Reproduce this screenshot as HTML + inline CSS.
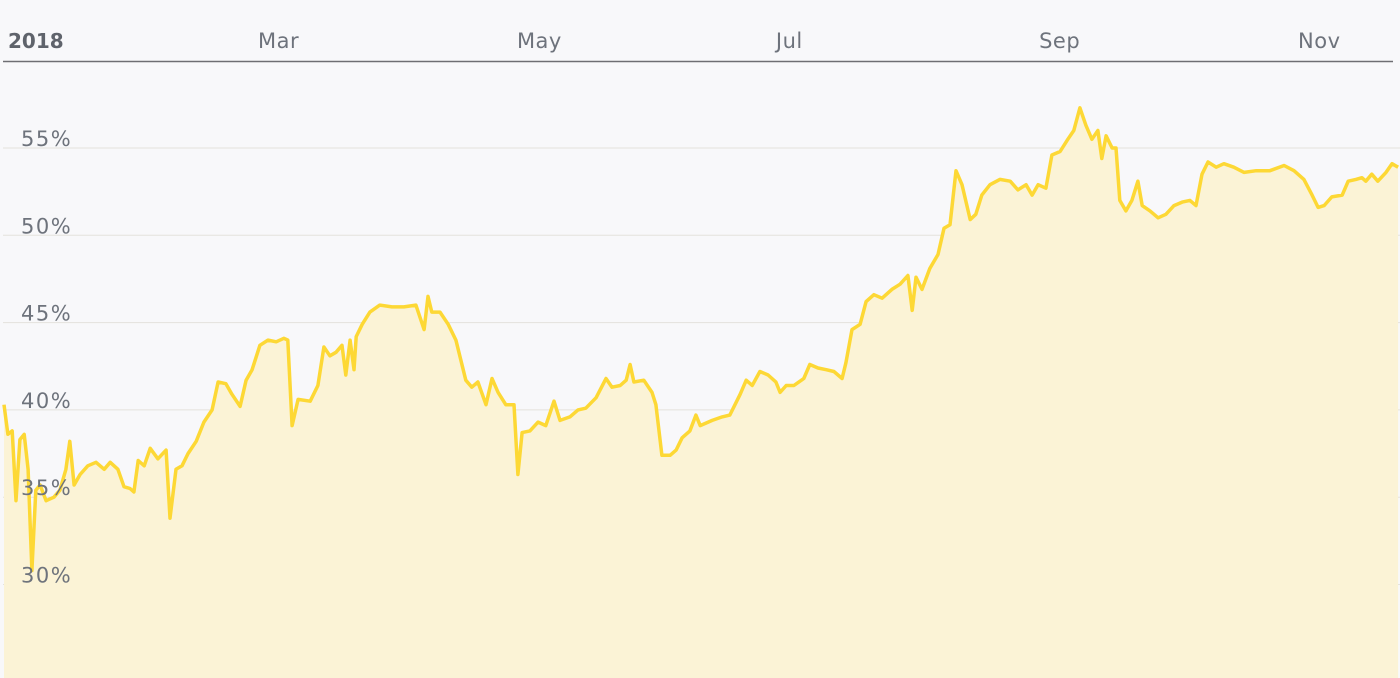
<!DOCTYPE html>
<html><head><meta charset="utf-8"><style>
html,body{margin:0;padding:0;background:#f8f8fa;}
svg{display:block;}
text{font-family:"DejaVu Sans","Liberation Sans",sans-serif;}
</style></head><body>
<svg id="chart" width="1400" height="678" viewBox="0 0 1400 678">
<rect x="0" y="0" width="1400" height="678" fill="#f8f8fa"/>
<g id="grid"></g>
<path id="area" fill="#fbf3d6"/>
<path id="line" fill="none" stroke="#fdd835" stroke-width="3.5" stroke-linejoin="round"/>
<g id="ylabels"></g>
<line x1="3" y1="61.5" x2="1393" y2="61.5" stroke="#6e6e73" stroke-width="1.5"/>
<text x="8" y="48" font-size="20" font-weight="bold" fill="#5f636b">2018</text>
<g id="xlabels"></g>
</svg>
<script>
const monthLabels=["Mar","May","Jul","Sep","Nov"];
const monthStartDays=[59,120,181,243,304];
const yTicks=[30,35,40,45,50,55];
const days=[0,0.9,1.9,2.8,3.7,4.7,5.6,6.5,7.4,8.4,9.8,11.6,13.0,14.4,15.3,16.3,17.7,19.5,21.4,23.3,24.7,26.5,27.9,29.3,30.2,31.2,32.6,34.0,35.8,37.7,38.6,40.0,41.4,42.8,44.7,46.5,48.4,49.8,51.6,53.0,54.9,56.3,57.7,59.5,61.4,63.3,65.1,66.0,67.0,68.4,71.2,73.0,74.4,75.8,77.2,78.6,79.5,80.5,81.4,81.9,83.3,85.1,87.4,90.2,93.0,95.8,97.7,98.6,99.5,101.4,103.3,105.1,107.4,108.8,110.2,112.1,113.5,114.9,116.7,118.6,119.5,120.5,122.3,124.2,126.0,127.9,129.3,131.6,133.5,135.3,137.7,140.0,141.4,143.3,144.7,145.6,146.5,148.8,150.7,151.6,153.0,154.9,156.3,157.7,159.5,160.9,161.9,164.7,167.0,168.8,171.2,172.6,174.0,175.8,177.7,179.5,180.5,181.9,183.7,186.0,187.4,189.3,191.2,193.0,194.9,195.8,197.2,199.1,200.5,202.3,204.2,206.5,208.4,210.2,211.2,212.1,213.5,215.3,217.2,218.6,220.0,221.4,222.8,224.7,226.0,227.4,229.3,231.6,234.0,235.8,237.7,239.1,240.5,242.3,243.7,245.6,247.4,248.8,250.2,251.6,253.0,254.4,255.3,256.3,257.7,258.6,259.5,260.9,262.3,263.7,264.7,266.5,268.4,270.2,272.1,274.0,275.8,277.2,278.6,280.0,281.9,283.7,286.0,288.4,291.2,294.4,297.7,300.0,302.3,304.2,305.6,307.0,308.8,311.2,312.6,314.4,315.8,316.7,318.1,319.5,321.4,322.8,324.2];
const values=[40.3,38.6,38.8,34.8,38.3,38.6,36.6,30.8,35.4,35.7,34.8,35.0,35.4,36.6,38.2,35.7,36.3,36.8,37.0,36.6,37.0,36.6,35.6,35.5,35.3,37.1,36.8,37.8,37.2,37.7,33.8,36.6,36.8,37.5,38.2,39.3,40.0,41.6,41.5,40.9,40.2,41.7,42.3,43.7,44.0,43.9,44.1,44.0,39.1,40.6,40.5,41.4,43.6,43.1,43.3,43.7,42.0,44.0,42.3,44.2,44.9,45.6,46.0,45.9,45.9,46.0,44.6,46.5,45.6,45.6,44.9,44.0,41.7,41.3,41.6,40.3,41.8,41.0,40.3,40.3,36.3,38.7,38.8,39.3,39.1,40.5,39.4,39.6,40.0,40.1,40.7,41.8,41.3,41.4,41.7,42.6,41.6,41.7,41.0,40.3,37.4,37.4,37.7,38.4,38.8,39.7,39.1,39.4,39.6,39.7,40.9,41.7,41.4,42.2,42.0,41.6,41.0,41.4,41.4,41.8,42.6,42.4,42.3,42.2,41.8,42.7,44.6,44.9,46.2,46.6,46.4,46.9,47.2,47.7,45.7,47.6,46.9,48.1,48.9,50.4,50.6,53.7,52.9,50.9,51.2,52.3,52.9,53.2,53.1,52.6,52.9,52.3,52.9,52.7,54.6,54.8,55.5,56.0,57.3,56.3,55.5,56.0,54.4,55.7,55.0,55.0,52.0,51.4,52.0,53.1,51.7,51.4,51.0,51.2,51.7,51.9,52.0,51.7,53.5,54.2,53.9,54.1,53.9,53.6,53.7,53.7,54.0,53.7,53.2,52.3,51.6,51.7,52.2,52.3,53.1,53.2,53.3,53.1,53.5,53.1,53.6,54.1,53.9];

const NS="http://www.w3.org/2000/svg";
function xs(d){return 4+d*4.3;}
function xLabel(d){return 258+(d-59)*4.245;}
function ys(v){return 148+(55-v)*17.46;}

const grid=document.getElementById('grid'), yl=document.getElementById('ylabels'), xl=document.getElementById('xlabels');
yTicks.forEach(t=>{
  const l=document.createElementNS(NS,'line');
  
  
  l.setAttribute('x1',3);l.setAttribute('x2',1400);
  l.setAttribute('y1',ys(t));l.setAttribute('y2',ys(t));
  l.setAttribute('stroke','#e4e2dc');l.setAttribute('stroke-width','1');
  grid.appendChild(l);
  const tx=document.createElementNS(NS,'text');
  
  
  tx.setAttribute('x',21);tx.setAttribute('y',ys(t)-2);
  tx.setAttribute('font-size','21');tx.setAttribute('letter-spacing','1.5');
  tx.setAttribute('fill','#6e737c');
  tx.textContent=t+'%';
  yl.appendChild(tx);
});
monthLabels.forEach((m,i)=>{
  const tx=document.createElementNS(NS,'text');
  
  
  tx.setAttribute('x',xLabel(monthStartDays[i]));tx.setAttribute('y',48);
  tx.setAttribute('font-size','21');tx.setAttribute('letter-spacing','0.5');
  tx.setAttribute('fill','#6e737c');
  tx.textContent=m;
  xl.appendChild(tx);
});
let d='';
days.forEach((dd,i)=>{d+=(i?'L':'M')+xs(dd).toFixed(1)+','+ys(values[i]).toFixed(1);});
document.getElementById('line').setAttribute('d',d);
document.getElementById('area').setAttribute('d',d+'L'+xs(days[days.length-1]).toFixed(1)+',678L'+xs(days[0]).toFixed(1)+',678Z');
</script>
</body></html>
